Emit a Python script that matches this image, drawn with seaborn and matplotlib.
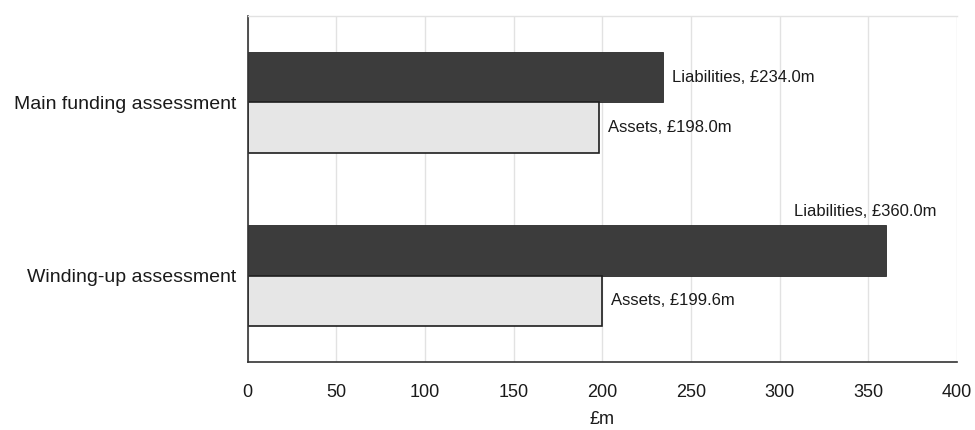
import matplotlib
matplotlib.use("Agg")
import matplotlib.pyplot as plt
import seaborn as sns
import pandas as pd
from matplotlib.ticker import FixedLocator

categories = ["Main funding assessment", "Winding-up assessment"]
series_names = ["Liabilities", "Assets"]
liabilities = [234.0, 360.0]
assets = [198.0, 199.6]
x_ticks = [0, 50, 100, 150, 200, 250, 300, 350, 400]
x_label = "£m"

df = pd.DataFrame({
    "Category": categories * 2,
    "Series": [series_names[0]] * len(categories) + [series_names[1]] * len(categories),
    "Value": liabilities + assets,
})

sns.set_theme(style="white")
plt.rcParams["font.family"] = ["Liberation Sans", "DejaVu Sans"]

fig = plt.figure(figsize=(9.75, 4.3), dpi=100)
ax = fig.add_axes([0.254, 0.158, 0.7275, 0.805])

palette = {"Liabilities": "#3c3c3c", "Assets": "#e6e6e6"}
sns.barplot(data=df, x="Value", y="Category", hue="Series", hue_order=series_names,
            order=categories, palette=palette, orient="h", width=0.58,
            dodge=True, legend=False, ax=ax, saturation=1)

for bar in ax.containers[0]:
    bar.set_edgecolor("#2a2a2a")
    bar.set_linewidth(0.6)
for bar in ax.containers[1]:
    bar.set_edgecolor("#1e1e1e")
    bar.set_linewidth(1.2)

ax.set_xlim(0, 400)
ax.set_ylim(1.5, -0.5)
ax.set_xticks(x_ticks)
ax.set_xticklabels([str(t) for t in x_ticks], fontsize=13, color="#1a1a1a")
ax.set_xlabel(x_label, fontsize=13, color="#1a1a1a", labelpad=7)
ax.set_ylabel("")
ax.tick_params(axis="y", which="major", length=0, labelsize=14, labelcolor="#1a1a1a", pad=8)
ax.yaxis.set_minor_locator(FixedLocator([-0.5, 0.5, 1.5]))
ax.tick_params(axis="y", which="minor", length=5, width=1, color="#333333", direction="out")
ax.tick_params(axis="x", which="major", length=4, width=1, color="#333333", direction="inout", pad=14)

ax.grid(axis="x", color="#e2e2e2", linewidth=1)
ax.set_axisbelow(True)
ax.spines["right"].set_visible(False)
ax.spines["top"].set_color("#e2e2e2")
ax.spines["top"].set_linewidth(1)
ax.spines["left"].set_color("#333333")
ax.spines["bottom"].set_color("#333333")
ax.spines["left"].set_linewidth(1.2)
ax.spines["bottom"].set_linewidth(1.2)

# value labels
for ci, container in enumerate(ax.containers):
    name = series_names[ci]
    for bi, bar in enumerate(container):
        v = bar.get_width()
        yc = bar.get_y() + bar.get_height() / 2
        txt = f"{name}, £{v:.1f}m"
        if name == "Liabilities" and v > 300:
            ax.annotate(txt, xy=(v, bar.get_y()), xytext=(-15, 10), textcoords="offset points",
                        ha="center", va="center", fontsize=12, color="#1a1a1a")
        else:
            ax.annotate(txt, xy=(v, yc), xytext=(7, 0), textcoords="offset points",
                        ha="left", va="center", fontsize=12, color="#1a1a1a")

fig.savefig("out.png", dpi=100, facecolor="white")
